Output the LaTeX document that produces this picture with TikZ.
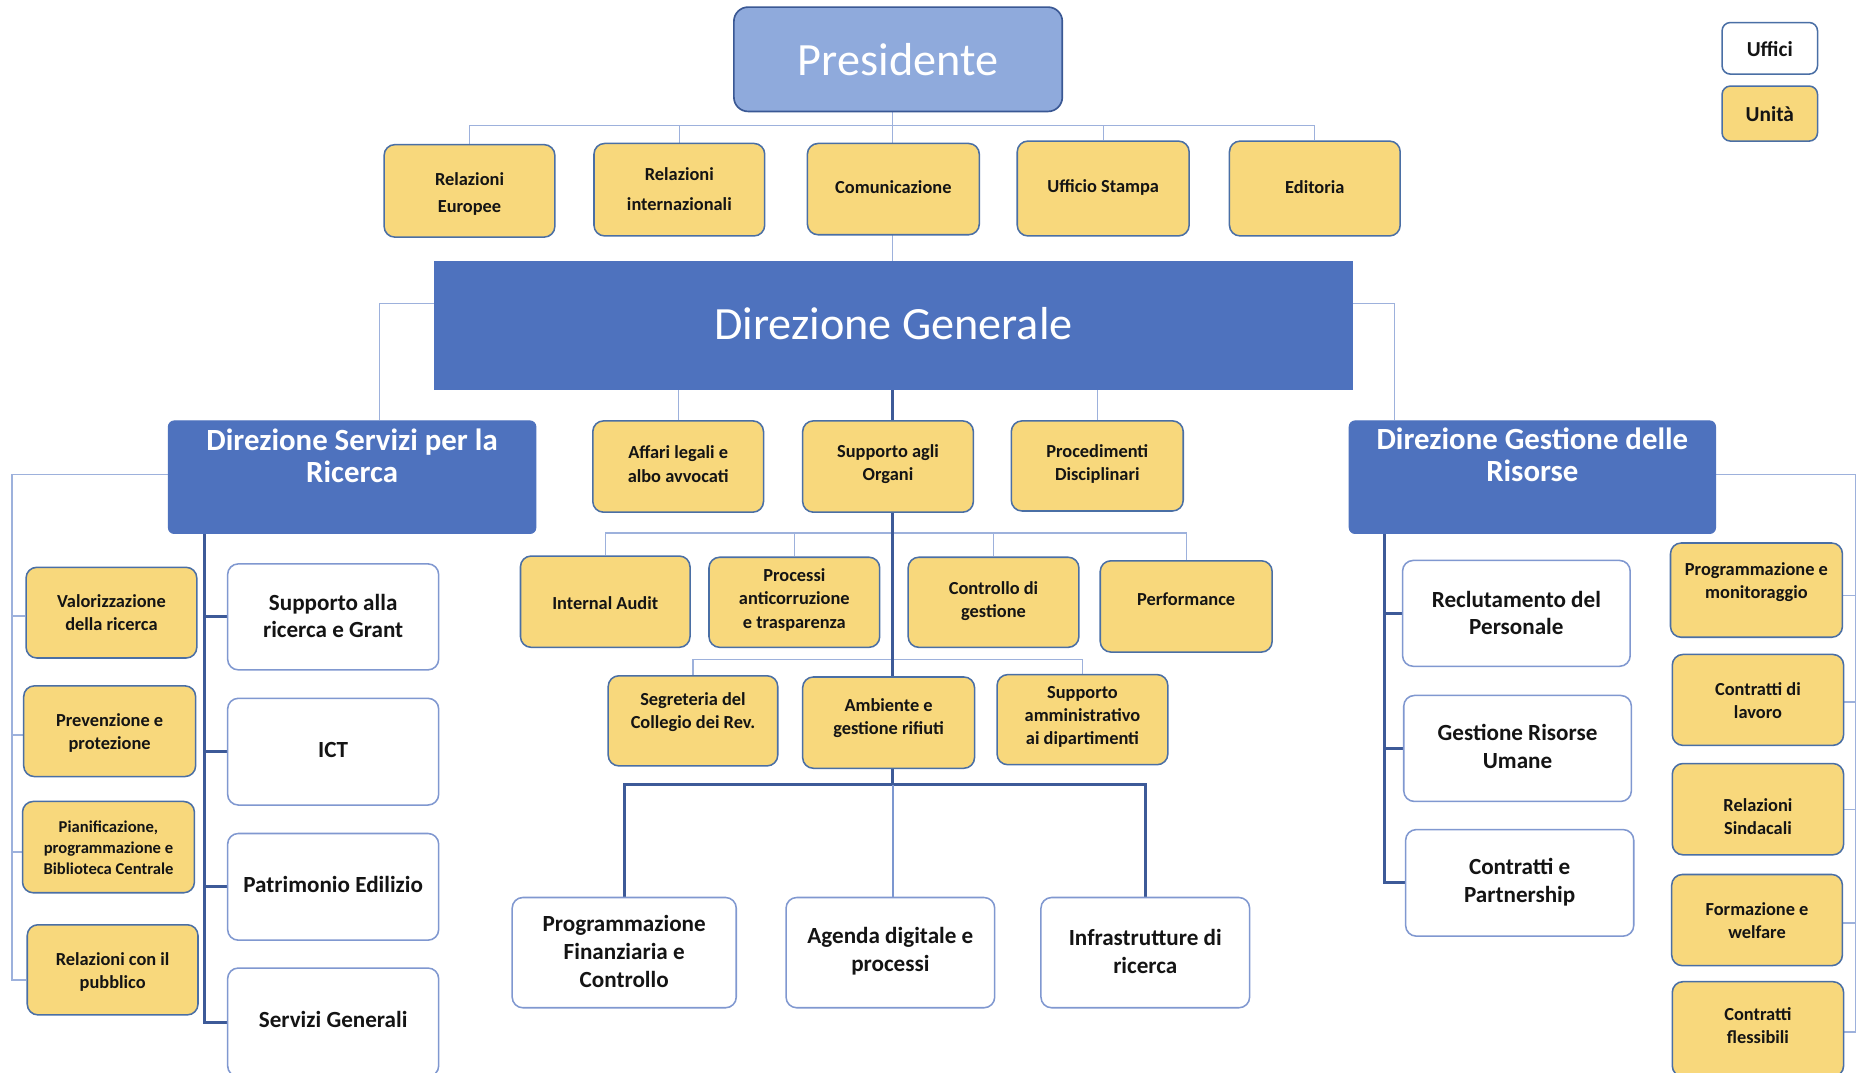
\documentclass[tikz,border=0pt]{standalone}
\usepackage{fontspec}
\setmainfont{Carlito}
\pgfdeclarelayer{back}
\pgfdeclarelayer{bg}
\pgfsetlayers{back,bg,main}
\definecolor{yel}{HTML}{F8D87C}
\definecolor{ybord}{HTML}{4A6FA5}
\definecolor{wbord}{HTML}{8098D0}
\definecolor{dblue}{HTML}{4E72BE}
\definecolor{presfill}{HTML}{8FAADC}
\definecolor{presbord}{HTML}{3A5894}
\definecolor{thinln}{HTML}{9DB1DC}
\definecolor{thickln}{HTML}{3D5A98}
\definecolor{midln}{HTML}{7C97D0}
\definecolor{txtc}{HTML}{141414}
\newcommand\bx[8]{%
  \node[#1, minimum width={(#5)-(#3)}, minimum height={(#6)-(#4)}] (#2) at ({((#3)+(#5))/2},{((#4)+(#6))/2}) {};
  \node[txt#1] (#2t) at ({((#3)+(#5))/2},#7) {#8};}
\begin{document}
\begin{tikzpicture}[x=1pt,y=-1pt,
  ubx/.style={draw=ybord, fill=yel, line width=1.3pt, rounded corners=9pt, inner sep=0pt},
  ubxs/.style={ubx},
  ubxl/.style={ubx, rounded corners=7pt},
  lgw/.style={draw=ybord, fill=white, line width=1.3pt, rounded corners=7pt, inner sep=0pt},
  wbx/.style={draw=wbord, fill=white, line width=1.3pt, rounded corners=9pt, inner sep=0pt},
  dbx/.style={fill=dblue, draw=dblue, line width=0.8pt, rounded corners=5pt, inner sep=0pt},
  dgbx/.style={fill=dblue, inner sep=0pt},
  pbx/.style={draw=presbord, fill=presfill, line width=1.4pt, rounded corners=12pt, inner sep=0pt},
  txtubx/.style={inner sep=0pt, align=center, text=txtc, font=\bfseries\fontsize{15.5}{19.5}\selectfont},
  txtubxs/.style={inner sep=0pt, align=center, text=txtc, font=\bfseries\fontsize{14}{18}\selectfont},
  txtubxl/.style={inner sep=0pt, align=center, text=txtc, font=\bfseries\fontsize{18}{20}\selectfont},
  txtlgw/.style={txtubxl},
  txtwbx/.style={inner sep=0pt, align=center, text=txtc, font=\bfseries\fontsize{19.5}{23.5}\selectfont},
  txtdbx/.style={inner sep=0pt, align=center, text=white, font=\bfseries\fontsize{26}{27}\selectfont},
  txtdgbx/.style={inner sep=0pt, align=center, text=white, font=\fontsize{39}{44}\selectfont},
  txtpbx/.style={inner sep=0pt, align=center, text=white, font=\fontsize{39}{44}\selectfont},
  thinl/.style={draw=thinln, line width=1.1pt},
  thickl/.style={draw=thickln, line width=2.4pt},
  midl/.style={draw=midln, line width=1.8pt}]
\useasboundingbox (0,0) rectangle (1568,905);
\clip (0,0) rectangle (1568,905);
\begin{pgfonlayer}{back}
\fill[white] (0,0) rectangle (1568,905);
\end{pgfonlayer}

% ---- top
\bx{pbx}{pres}{619}{6}{896}{94}{50}{Presidente}
\bx{dgbx}{dg}{366}{220}{1141}{329}{273}{Direzione Generale}
\bx{ubx}{relEu}{324}{122}{468}{200}{163.5}{Relazioni\\[3.5pt]Europee}
\bx{ubx}{relInt}{501}{121}{645}{199}{159.5}{Relazioni\\[5pt]internazionali}
\bx{ubx}{comu}{681}{121}{826}{198}{158}{Comunicazione}
\bx{ubx}{ustampa}{858}{119}{1003}{199}{158}{Ufficio Stampa}
\bx{ubx}{edit}{1037}{119}{1181}{199}{158}{Editoria}

% ---- directions
\bx{dbx}{dsr}{142}{355}{452}{450}{384.5}{Direzione Servizi per la\\Ricerca}
\bx{dbx}{dgris}{1138}{355}{1447}{450}{383.5}{Direzione Gestione delle\\Risorse}

% ---- centre
\bx{ubx}{aff}{500}{355}{644}{432}{391.5}{Affari legali e\\albo avvocati}
\bx{ubx}{sao}{677}{355}{821}{432}{391.5}{Supporto agli\\Organi}
\bx{ubx}{proc}{853}{355}{998}{431}{391.5}{Procedimenti\\Disciplinari}
\bx{ubx}{ia}{439}{469}{582}{546}{509}{Internal Audit}
\bx{ubx}{pat}{598}{470}{742}{546}{506}{Processi\\anticorruzione\\e trasparenza}
\bx{ubx}{cdg}{766}{470}{910}{546}{507}{Controllo di\\gestione}
\bx{ubx}{perf}{928}{473}{1073}{550}{505}{Performance}
\bx{ubx}{seg}{513}{570}{656}{646}{600.5}{Segreteria del\\Collegio dei Rev.}
\bx{ubx}{amb}{677}{571}{822}{648}{605.5}{Ambiente e\\gestione rifiuti}
\bx{ubx}{sad}{841}{569}{985}{645}{605}{Supporto\\amministrativo\\ai dipartimenti}
\bx{wbx}{pfc}{432}{757}{621}{850}{802.5}{Programmazione\\Finanziaria e\\Controllo}
\bx{wbx}{adp}{663}{757}{839}{850}{802.5}{Agenda digitale e\\processi}
\bx{wbx}{idr}{878}{757}{1054}{850}{802.5}{Infrastrutture di\\ricerca}

% ---- left
\bx{ubx}{val}{22}{478.5}{166}{555}{516.5}{Valorizzazione\\della ricerca}
\bx{ubx}{prev}{20}{578.5}{165}{655}{618.5}{Prevenzione e\\protezione}
\bx{ubxs}{pian}{19}{676}{164}{753}{715}{Pianificazione,\\programmazione e\\Biblioteca Centrale}
\bx{ubx}{rpub}{23}{780}{167}{856}{820}{Relazioni con il\\pubblico}
\bx{wbx}{srg}{192}{475.6}{370}{565}{519.5}{Supporto alla\\ricerca e Grant}
\bx{wbx}{ict}{192}{589}{370}{679}{633}{ICT}
\bx{wbx}{ped}{192}{703}{370}{793}{746}{Patrimonio Edilizio}
\bx{wbx}{sg}{192}{816.5}{370}{908}{860}{Servizi Generali}

% ---- right
\bx{wbx}{rdp}{1183}{472.7}{1375}{562}{517}{Reclutamento del\\Personale}
\bx{wbx}{gru}{1184}{586.6}{1376}{676}{629.5}{Gestione Risorse\\Umane}
\bx{wbx}{cep}{1185.6}{699.7}{1378}{789.6}{744}{Contratti e\\Partnership}
\bx{ubx}{pem}{1409}{458}{1554}{537.5}{491}{Programmazione e\\monitoraggio}
\bx{ubx}{cdl}{1410.5}{552}{1555}{628.7}{591}{Contratti di\\lavoro}
\bx{ubx}{rsind}{1410.5}{644}{1555}{721}{688.5}{Relazioni\\Sindacali}
\bx{ubx}{fw}{1410}{737.6}{1554}{814.5}{776.5}{Formazione e\\welfare}
\bx{ubx}{cfl}{1410.5}{828}{1555}{908}{865}{Contratti\\flessibili}

% ---- legend
\bx{lgw}{luff}{1452.5}{19}{1533}{62.5}{41}{Uffici}
\bx{ubxl}{luni}{1452.5}{72.6}{1533}{119}{96}{Unità}

% ---- connectors
\begin{pgfonlayer}{bg}
\coordinate (pb) at (753,106);
\draw[thinl] (dg.north -| pb) -- (pb |- pres.south);
\draw[thinl] (relEu.north) -- (relEu.north |- pb) -- (edit.north |- pb) -- (edit.north);
\draw[thinl] (relInt.north) -- (relInt.north |- pb);
\draw[thinl] (ustampa.north) -- (ustampa.north |- pb);

\coordinate (jl) at (320,256);
\coordinate (jr) at (1176,256);
\draw[thinl] (dg.west |- jl) -- (jl) -- (jl |- dsr.north);
\draw[thinl] (dg.east |- jr) -- (jr) -- (jr |- dgris.north);

\draw[thinl] (aff.north) -- (aff.north |- dg.south);
\draw[thinl] (proc.north) -- (proc.north |- dg.south);

\coordinate (b1) at (0,449.5);
\coordinate (b2) at (0,556.5);
\coordinate (b3) at (0,661.7);
\coordinate (sp) at (753,0);
\draw[thinl] (ia.north) -- (ia.north |- b1) -- (perf.north |- b1) -- (perf.north);
\draw[thinl] (pat.north) -- (pat.north |- b1);
\draw[thinl] (cdg.north) -- (cdg.north |- b1);
\draw[thinl] (seg.north) -- (seg.north |- b2) -- (sad.north |- b2) -- (sad.north);
\draw[thickl] (sp |- dg.south) -- (sp |- b3);
\draw[thickl] (pfc.north) -- (pfc.north |- b3) -- (idr.north |- b3) -- (idr.north);
\draw[midl] (sp |- b3) -- (sp |- adp.north);

\coordinate (ls) at (172.5,0);
\draw[thickl] (ls |- dsr.south) -- (ls |- sg.west) -- (sg.west);
\draw[thickl] (ls |- srg.west) -- (srg.west);
\draw[thickl] (ls |- ict.west) -- (ict.west);
\draw[thickl] (ls |- ped.west) -- (ped.west);

\coordinate (lt) at (10,400);
\draw[thinl] (dsr.west |- lt) -- (lt) -- (10,826.7) -- (rpub.west |- 0,826.7);
\draw[thinl] (10,519.5) -- (val.west |- 0,519.5);
\draw[thinl] (10,620) -- (prev.west |- 0,620);
\draw[thinl] (10,718.6) -- (pian.west |- 0,718.6);

\coordinate (rs) at (1168,0);
\draw[thickl] (rs |- dgris.south) -- (rs |- cep.west) -- (cep.west);
\draw[thickl] (rs |- rdp.west) -- (rdp.west);
\draw[thickl] (rs |- gru.west) -- (gru.west);

\coordinate (rt) at (1565,400);
\draw[thinl] (dgris.east |- rt) -- (rt) -- (1565,870.5) -- (cfl.east |- 0,870.5);
\draw[thinl] (1565,502.5) -- (pem.east |- 0,502.5);
\draw[thinl] (1565,592) -- (cdl.east |- 0,592);
\draw[thinl] (1565,683) -- (rsind.east |- 0,683);
\draw[thinl] (1565,778.5) -- (fw.east |- 0,778.5);
\end{pgfonlayer}
\end{tikzpicture}
\end{document}
